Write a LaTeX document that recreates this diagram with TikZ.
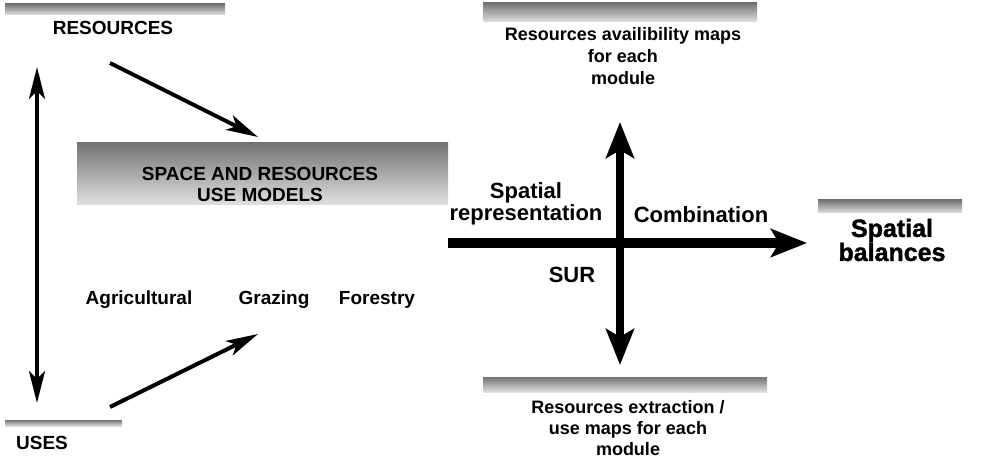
\documentclass[tikz,border=0pt]{standalone}
\usepackage{fontspec}
\setmainfont{Liberation Sans}
\newfontfamily\heavyfont[BoldFeatures={FakeBold=1.5}]{Liberation Sans}
\usetikzlibrary{calc}
\usetikzlibrary{arrows.meta}
\tikzset{%
    band/.style={draw=none,top color=black!55,bottom color=black!12},
    txt/.style={font=\bfseries\fontsize{9.5}{10.5}\selectfont,align=center,inner sep=0pt},
    bigtxt/.style={font=\bfseries\fontsize{11}{11}\selectfont,align=center,inner sep=0pt},
    heavytxt/.style={font=\heavyfont\bfseries\fontsize{12.5}{12}\selectfont,align=center,inner sep=0pt},
    thin arrow/.style={line width=2pt,-{Stealth[length=16pt,width=8pt,inset=4pt]}},
    thin both/.style={line width=2pt,{Stealth[length=16pt,width=8pt,inset=4pt]}-{Stealth[length=16pt,width=8pt,inset=4pt]}},
    thick arrow/.style={line width=5pt,-{Stealth[length=18pt,width=14pt,inset=4pt]}},
    thick both/.style={line width=4pt,{Stealth[length=18pt,width=14pt,inset=4pt]}-{Stealth[length=18pt,width=14pt,inset=4pt]}},
}

\begin{document}
\begin{tikzpicture}[x=0.5pt,y=-0.5pt]
        \useasboundingbox (0,0) rectangle (981,460);

        % grey strips over the titles
        \fill[band] (5,4) rectangle (225,15);
        \fill[band] (77,143) rectangle (448,205);
        \fill[band] (483,3) rectangle (757,22);
        \fill[band] (818,200) rectangle (962,213);
        \fill[band] (483,377) rectangle (767,392);
        \fill[band] (5,420) rectangle (122,426);

        \node[txt] (resources) at (113,28) {RESOURCES};
        \node[txt] (uses) at (42,443) {USES};
        \node[txt] (models) at (260,184) {SPACE AND RESOURCES\\USE MODELS};
        \node[txt] (agri) at (139,300) {Agricultural};
        \node[txt] (grazing) at (274,300) {Grazing};
        \node[txt] (forestry) at (377,300) {Forestry};

        \node[txt,font=\bfseries\fontsize{9}{11.2}\selectfont] (avail) at (623,56) {Resources availibility maps\\for each\\module};
        \node[txt,font=\bfseries\fontsize{9}{10.3}\selectfont] (extract) at (628,428) {Resources extraction /\\use maps for each\\module};
        \node[bigtxt] (spatrep) at (526,204) {Spatial\\representation};
        \node[bigtxt] (comb) at (701,215) {Combination};
        \node[bigtxt] (sur) at (572,275) {SUR};
        \node[heavytxt] (balances) at (892,240) {Spatial\\balances};

        % connectors
        \coordinate (R1) at (37,67);
        \coordinate (U1) at (37,403);
        \draw[thin both] (R1) -- (U1);
        \coordinate (R2) at (110,63);
        \coordinate (M1) at (258,137);
        \draw[thin arrow] (R2) -- (M1);
        \coordinate (U2) at (110,407);
        \coordinate (M2) at (258,334);
        \draw[thin arrow] (U2) -- (M2);

        \coordinate (H1) at (448,243);
        \coordinate (H2) at (807,243);
        \draw[thick arrow] (H1) -- (H2);
        \coordinate (V1) at (620,122);
        \coordinate (V2) at (620,365);
        \draw[thick both] (V1) -- (V2);
      \end{tikzpicture}
\end{document}
